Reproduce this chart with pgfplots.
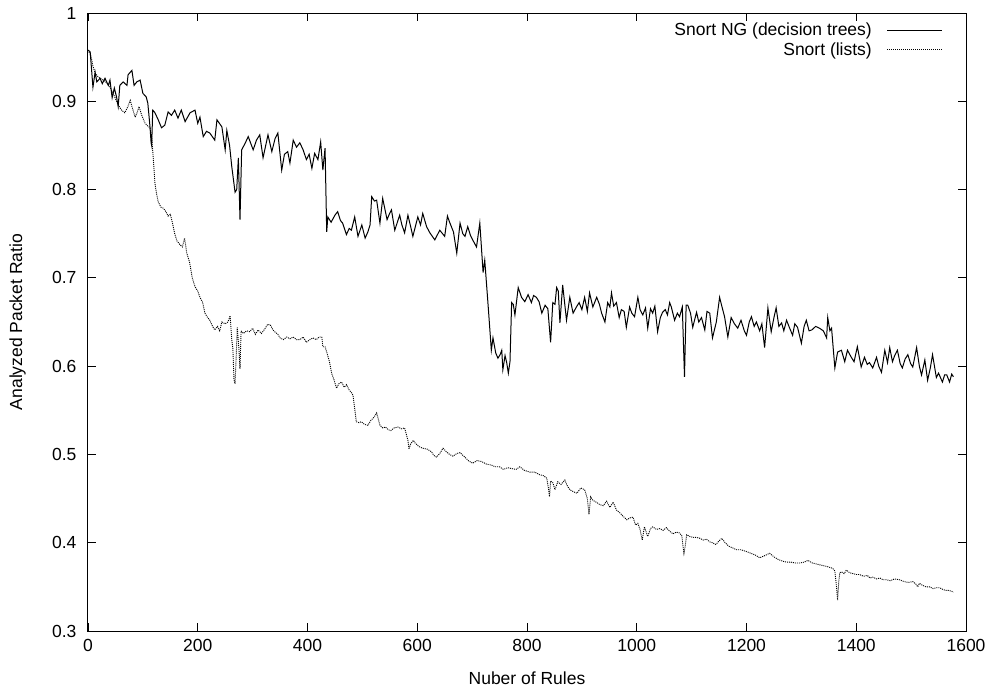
\documentclass[border=0pt]{standalone}
\usepackage{fontspec}
\setmainfont{Liberation Sans}
\usepackage{pgfplots}
\pgfplotsset{compat=1.18}

\pgfplotstableread{
x y
0 0.958
4 0.956
9 0.916
13 0.933
16 0.922
22 0.926
26 0.920
31 0.926
37 0.918
40 0.924
44 0.904
48 0.915
52 0.905
55 0.894
58 0.918
64 0.922
71 0.918
73 0.930
80 0.935
84 0.918
89 0.922
95 0.924
100 0.909
106 0.905
109 0.898
113 0.871
115 0.853
116 0.850
118 0.890
122 0.887
128 0.879
134 0.870
140 0.873
146 0.888
152 0.884
158 0.890
164 0.881
170 0.890
177 0.877
186 0.887
195 0.890
200 0.875
204 0.882
210 0.860
216 0.866
222 0.864
231 0.856
235 0.879
244 0.871
250 0.845
253 0.867
258 0.850
262 0.826
268 0.797
271 0.800
274 0.836
277 0.766
280 0.845
286 0.852
292 0.860
301 0.845
307 0.856
313 0.862
319 0.836
328 0.862
335 0.843
341 0.858
346 0.864
353 0.822
358 0.840
364 0.843
368 0.830
374 0.856
380 0.848
386 0.853
392 0.845
398 0.834
403 0.840
408 0.824
413 0.841
419 0.834
424 0.854
428 0.822
432 0.847
435 0.752
437 0.769
443 0.763
450 0.771
455 0.775
460 0.765
464 0.762
471 0.749
476 0.756
480 0.754
486 0.769
492 0.747
499 0.760
505 0.745
510 0.752
514 0.760
517 0.792
522 0.787
526 0.788
532 0.762
537 0.790
545 0.766
549 0.772
553 0.777
559 0.754
568 0.771
572 0.760
577 0.751
583 0.771
588 0.758
592 0.747
601 0.769
606 0.760
610 0.773
617 0.758
623 0.751
632 0.743
641 0.754
650 0.747
655 0.770
659 0.763
666 0.752
672 0.728
678 0.762
683 0.750
687 0.747
692 0.758
697 0.748
701 0.743
708 0.735
714 0.762
720 0.706
723 0.720
729 0.670
735 0.618
738 0.632
743 0.615
747 0.609
751 0.613
754 0.618
756 0.596
760 0.612
763 0.604
766 0.592
769 0.605
772 0.672
775 0.670
778 0.658
784 0.689
790 0.678
796 0.673
802 0.681
808 0.672
812 0.680
817 0.678
822 0.673
827 0.660
833 0.669
838 0.665
843 0.627
847 0.672
851 0.670
854 0.689
857 0.685
860 0.649
865 0.692
872 0.652
878 0.678
884 0.660
890 0.667
895 0.672
900 0.664
905 0.678
910 0.662
914 0.683
920 0.667
927 0.678
932 0.670
936 0.660
942 0.650
947 0.672
951 0.667
954 0.683
958 0.668
963 0.672
968 0.655
972 0.664
977 0.662
981 0.644
987 0.667
991 0.660
996 0.656
1002 0.678
1006 0.664
1011 0.658
1016 0.666
1020 0.643
1025 0.665
1029 0.660
1033 0.668
1038 0.639
1043 0.655
1047 0.661
1052 0.664
1056 0.658
1060 0.672
1063 0.667
1069 0.652
1074 0.660
1078 0.656
1083 0.667
1087 0.588
1090 0.669
1093 0.669
1098 0.660
1102 0.644
1109 0.661
1113 0.650
1118 0.655
1124 0.641
1128 0.662
1133 0.660
1138 0.632
1145 0.650
1151 0.678
1155 0.668
1160 0.656
1166 0.633
1172 0.655
1178 0.648
1184 0.643
1190 0.652
1196 0.640
1200 0.635
1205 0.650
1209 0.656
1214 0.645
1218 0.650
1224 0.640
1228 0.648
1233 0.621
1239 0.666
1245 0.639
1250 0.655
1254 0.666
1259 0.645
1264 0.649
1268 0.640
1273 0.652
1278 0.644
1284 0.635
1288 0.648
1293 0.644
1300 0.626
1305 0.645
1309 0.652
1314 0.640
1319 0.641
1326 0.645
1333 0.643
1340 0.640
1346 0.632
1348 0.655
1352 0.640
1355 0.643
1361 0.598
1366 0.616
1373 0.618
1379 0.605
1384 0.618
1391 0.610
1396 0.605
1402 0.622
1409 0.599
1415 0.610
1420 0.602
1424 0.604
1430 0.598
1437 0.610
1441 0.600
1446 0.593
1452 0.618
1457 0.604
1461 0.621
1466 0.605
1470 0.612
1475 0.618
1480 0.603
1484 0.598
1489 0.608
1494 0.613
1499 0.603
1503 0.599
1510 0.621
1515 0.600
1519 0.590
1525 0.607
1530 0.584
1535 0.598
1539 0.613
1546 0.587
1550 0.592
1557 0.582
1561 0.590
1565 0.590
1570 0.582
1574 0.591
1577 0.588
}\ngdata

\pgfplotstableread{
x y
0 0.958
5 0.952
9 0.940
13 0.932
18 0.928
22 0.926
28 0.924
34 0.921
40 0.916
45 0.910
50 0.903
55 0.896
61 0.890
67 0.887
72 0.893
77 0.901
81 0.892
86 0.882
90 0.888
93 0.894
98 0.884
104 0.875
109 0.872
113 0.870
116 0.860
119 0.835
122 0.807
125 0.795
128 0.786
133 0.780
137 0.779
142 0.775
146 0.770
150 0.772
154 0.762
158 0.750
162 0.742
167 0.738
172 0.735
176 0.745
180 0.728
185 0.718
190 0.700
195 0.690
200 0.685
204 0.678
209 0.672
213 0.660
218 0.655
222 0.652
227 0.645
231 0.641
236 0.645
240 0.640
244 0.650
250 0.648
255 0.650
259 0.657
262 0.630
264 0.620
266 0.585
268 0.580
270 0.610
272 0.644
275 0.620
277 0.597
279 0.640
283 0.637
289 0.640
295 0.639
300 0.643
305 0.636
310 0.641
316 0.637
322 0.642
327 0.647
332 0.647
337 0.641
342 0.638
346 0.636
350 0.632
356 0.630
362 0.633
368 0.631
374 0.633
380 0.630
386 0.630
392 0.633
398 0.627
404 0.630
410 0.632
416 0.630
421 0.633
426 0.633
428 0.622
432 0.622
435 0.616
440 0.605
444 0.592
448 0.585
453 0.575
457 0.580
462 0.582
467 0.576
471 0.579
476 0.573
480 0.570
483 0.567
486 0.552
489 0.537
494 0.536
498 0.537
504 0.534
510 0.533
516 0.539
521 0.542
526 0.547
529 0.540
532 0.533
537 0.530
542 0.531
547 0.528
552 0.527
558 0.530
565 0.531
571 0.529
577 0.530
583 0.516
585 0.506
588 0.512
593 0.516
596 0.513
603 0.509
610 0.507
618 0.506
626 0.503
630 0.499
635 0.497
641 0.501
647 0.507
653 0.503
659 0.500
665 0.498
672 0.501
678 0.502
685 0.498
693 0.493
701 0.490
709 0.493
717 0.492
726 0.489
735 0.488
742 0.486
750 0.486
757 0.483
765 0.485
772 0.484
780 0.483
787 0.486
795 0.482
805 0.480
814 0.480
823 0.477
830 0.476
836 0.473
839 0.462
841 0.452
843 0.470
847 0.468
851 0.460
856 0.469
862 0.466
869 0.471
873 0.465
878 0.460
884 0.458
891 0.456
898 0.462
905 0.460
910 0.450
913 0.432
916 0.452
920 0.448
926 0.446
933 0.443
939 0.442
945 0.447
951 0.440
957 0.446
963 0.437
969 0.434
975 0.430
982 0.426
987 0.428
993 0.429
998 0.420
1002 0.422
1006 0.415
1010 0.403
1014 0.418
1020 0.407
1025 0.416
1029 0.418
1036 0.415
1042 0.416
1048 0.414
1054 0.417
1060 0.413
1066 0.410
1072 0.412
1078 0.411
1082 0.408
1086 0.388
1088 0.395
1091 0.409
1097 0.407
1103 0.406
1109 0.406
1115 0.405
1121 0.403
1127 0.404
1133 0.401
1138 0.400
1144 0.398
1150 0.402
1155 0.405
1161 0.400
1168 0.396
1175 0.394
1182 0.392
1190 0.392
1200 0.390
1208 0.388
1216 0.386
1224 0.383
1232 0.385
1242 0.388
1250 0.384
1258 0.381
1266 0.379
1273 0.378
1281 0.378
1289 0.377
1297 0.377
1305 0.378
1312 0.380
1320 0.377
1327 0.376
1333 0.375
1340 0.374
1347 0.373
1352 0.372
1357 0.371
1361 0.368
1364 0.350
1366 0.335
1368 0.355
1370 0.366
1373 0.367
1378 0.365
1382 0.369
1388 0.366
1394 0.365
1400 0.364
1406 0.364
1413 0.362
1420 0.363
1425 0.360
1430 0.361
1437 0.359
1443 0.360
1449 0.358
1455 0.358
1462 0.357
1470 0.359
1479 0.358
1487 0.356
1495 0.355
1503 0.356
1509 0.353
1512 0.350
1515 0.354
1520 0.352
1527 0.350
1534 0.350
1540 0.348
1546 0.349
1552 0.349
1558 0.347
1563 0.346
1568 0.346
1574 0.345
1577 0.344
}\listdata

\begin{document}
\begin{tikzpicture}
  % page size = reference size, 1px = 1bp
  \useasboundingbox (-88bp,-58bp) rectangle (900bp,631bp);
  \begin{axis}[
    anchor=south west, at={(0,0)},
    scale only axis,
    width=878bp, height=618bp,
    xmin=0, xmax=1600, ymin=0.3, ymax=1,
    xtick={0,200,...,1600},
    ytick={0.3,0.4,...,1.0},
    yticklabels={0.3,0.4,0.5,0.6,0.7,0.8,0.9,1},
    /pgf/number format/assume math mode=true,
    /pgf/number format/1000 sep={},
    tick label style={font=\fontsize{17.5bp}{21bp}\selectfont},
    label style={font=\fontsize{17.5bp}{21bp}\selectfont},
    xticklabel style={yshift=-5bp},
    yticklabel style={xshift=-8bp},
    tick align=inside,
    major tick length=8bp,
    tick style={line width=0.9bp, black},
    axis line style={line width=1bp},
    xlabel={Nuber of Rules},
    ylabel={Analyzed Packet Ratio},
    xlabel style={at={(axis description cs:0.5,-0.0760)}, anchor=center},
    ylabel style={at={(axis description cs:-0.0803,0.5)}, anchor=center},
    legend style={draw=none, fill=none, at={(1,1)}, anchor=north east,
      xshift=-20bp, yshift=-6bp, row sep=1bp, column sep=13bp,
      font=\fontsize{17.5bp}{21bp}\selectfont},
    legend plot pos=right,
    legend cell align=right,
    legend image code/.code={\draw[#1] (0bp,0bp) -- (55bp,0bp);},
  ]
  \addplot[black, line width=1bp] table[x=x,y=y] {\ngdata};
  \addplot[black, line width=0.9bp, dash pattern=on 1bp off 1bp] table[x=x,y=y] {\listdata};
  \legend{Snort NG (decision trees), Snort (lists)}
  \end{axis}
\end{tikzpicture}
\end{document}
